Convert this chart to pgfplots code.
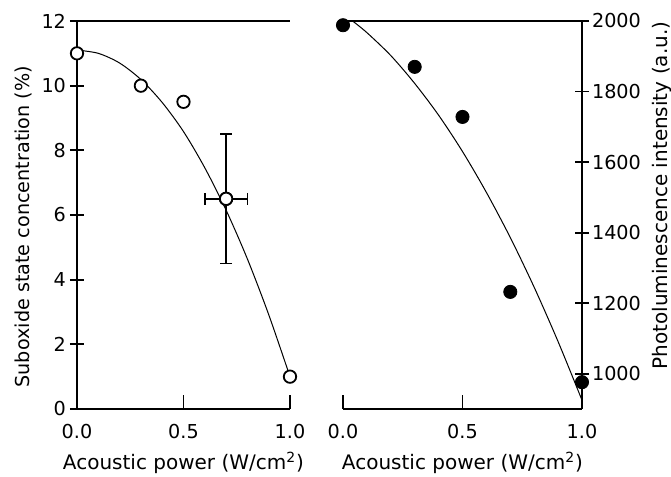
\documentclass[border=0pt]{standalone}
\usepackage{pgfplots}
\pgfplotsset{compat=1.18}
\usepackage{fontspec}
\setmainfont{DejaVu Sans}
\setsansfont{DejaVu Sans}

\pgfplotsset{
  panel/.style={
    scale only axis,
    height=194pt,
    xmin=0, xmax=1,
    xtick={0,0.5,1},
    tick align=inside,
    major tick length=7pt,
    axis line style={-, line width=0.9pt},
    every tick/.style={black, line width=0.9pt},
    tick label style={font=\fontsize{9.6}{11}\selectfont},
    label style={font=\fontsize{9.6}{11}\selectfont},
    xticklabel style={yshift=-4pt, /pgf/number format/.cd, fixed, fixed zerofill, precision=1},
    xlabel style={at={(axis description cs:0.5,0)}, anchor=base, yshift=-28.5pt, inner sep=0pt},
    /pgf/number format/assume math mode=true,
    /pgf/number format/1000 sep={},
    clip=false,
  },
}

\begin{document}
\begin{tikzpicture}
\path[use as bounding box] (-38.5pt,-34pt) rectangle (297pt,204.5pt);

% left panel: suboxide concentration
\begin{axis}[panel,
    at={(0,0)}, anchor=south west,
    width=106.5pt,
    axis x line=box, axis y line=left,
    xtick pos=bottom, ytick pos=left,
    axis line style={-, line width=0.9pt},
    ymin=0, ymax=12,
    ytick={0,2,...,12},
    yticklabel style={xshift=1.5pt},
    xlabel={Acoustic power (W/cm\textsuperscript{2})},
    ylabel={Suboxide state concentration (\%)},
    ylabel style={at={(axis description cs:-0.2535,0.47)}, anchor=center, inner sep=0pt},
]
\addplot[black, line width=0.5pt, smooth] coordinates {
  (0,11.10) (0.1,11.00) (0.2,10.70) (0.3,10.19) (0.4,9.48) (0.5,8.58)
  (0.6,7.46) (0.7,6.15) (0.8,4.64) (0.9,2.92) (1.0,1.00)
};
\addplot[only marks, mark=*, mark size=3.1pt, line width=0.9pt,
  mark options={draw=black, fill=white},
  error bars/.cd, x dir=both, x explicit, y dir=both, y explicit,
  error bar style={black, line width=0.8pt},
  error mark options={rotate=90, black, line width=0.8pt, mark size=3pt}]
  coordinates {(0.7,6.5) +- (0.1,2)};
\addplot[only marks, mark=*, mark size=3.1pt, line width=0.9pt,
  mark options={draw=black, fill=white}] coordinates {
  (0,11.0) (0.3,10.0) (0.5,9.5) (0.7,6.5) (1.0,1.0)
};
\end{axis}

% right panel: photoluminescence intensity
\begin{axis}[panel,
    at={(133pt,0)}, anchor=south west,
    width=119.5pt,
    axis x line=box, axis y line=right,
    xtick pos=bottom, ytick pos=right,
    axis line style={-, line width=0.9pt},
    ymin=900, ymax=2000,
    ytick={1000,1200,...,2000},
    yticklabel style={xshift=-2pt},
    xlabel={Acoustic power (W/cm\textsuperscript{2})},
    ylabel={Photoluminescence intensity (a.u.)},
    ylabel style={at={(axis description cs:1.3347,0.55)}, anchor=center, inner sep=0pt},
]
\addplot[black, line width=0.5pt, smooth] coordinates {
  (0.04,2000) (0.1,1967) (0.2,1902) (0.3,1823) (0.4,1733) (0.5,1630)
  (0.6,1514) (0.7,1386) (0.8,1245) (0.9,1091) (1.0,925)
};
\addplot[only marks, mark=*, mark size=3.3pt, black] coordinates {
  (0,1988) (0.3,1870) (0.5,1728) (0.7,1232) (1.0,976)
};
\end{axis}
\end{tikzpicture}
\end{document}
